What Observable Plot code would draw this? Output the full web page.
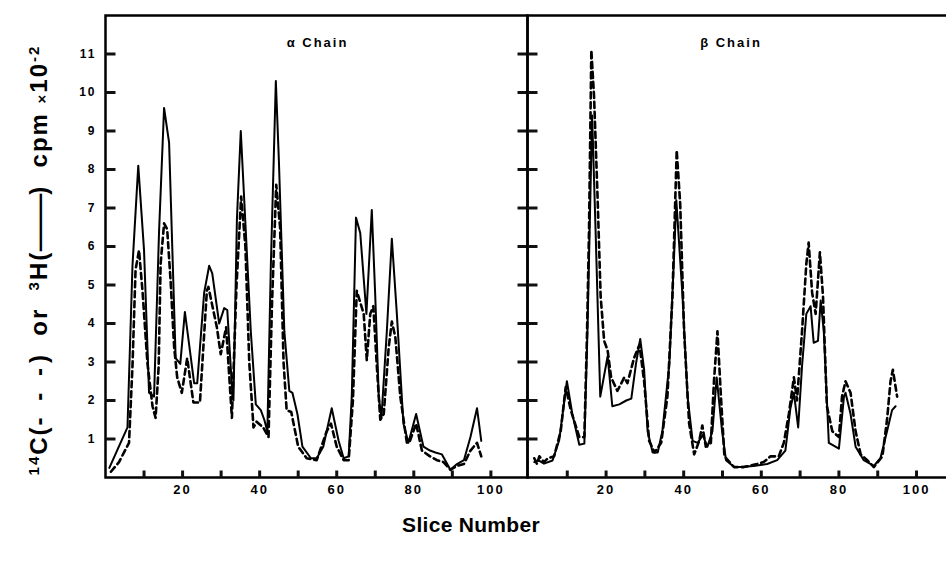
<!DOCTYPE html>
<html>
<head>
<meta charset="utf-8">
<script src="https://cdn.jsdelivr.net/npm/d3@7"></script>
<script src="https://cdn.jsdelivr.net/npm/@observablehq/plot@0.6"></script>
<style>
html, body { margin: 0; padding: 0; background: #fff; overflow: hidden; }
#wrap { position: relative; width: 946px; height: 561px; overflow: hidden; background: #fff;
        font-family: 'Liberation Sans', Arial, sans-serif; color: #000; }
#left, #right { position: absolute; top: 0; }
#left { left: 0; width: 530px; }
#right { left: 524px; width: 432px; }
#wrap svg { max-width: none !important; }
#wrap svg text { font-weight: bold; }
#ylab { position: absolute; left: 39px; top: 260px; transform: translate(-50%, -50%) rotate(-90deg);
        white-space: nowrap; font-weight: bold; font-size: 24px; letter-spacing: 2px; }
#ylab sup { font-size: 15px; vertical-align: 0.55em; line-height: 0; }
#ylab .em { display: inline-block; transform: scaleX(2.4); margin: 0 16px; letter-spacing: 0; }
#ylab .dash { letter-spacing: 5px; }
#ylab .x { font-size: 15px; }
#xlab { position: absolute; left: 471px; top: 525px; transform: translate(-50%, -50%);
        font-weight: bold; font-size: 21px; white-space: nowrap; letter-spacing: 0.3px; }
</style>
</head>
<body>
<div id="wrap">
  <div id="left"></div>
  <div id="right"></div>
  <div id="ylab"><sup>14</sup>C(<span class="dash">- - -</span>)&nbsp; or&nbsp; <sup>3</sup>H(<span class="em">—</span>)&nbsp; cpm <span class="x">×</span>10<sup>-2</sup></div>
  <div id="xlab">Slice Number</div>
</div>
<script>
// ---- tick values / labels ----
const sliceTicks = [10, 20, 30, 40, 50, 60, 70, 80, 90, 100];
const sliceLabels = [20, 40, 60, 80, 100];
const cpmTicks = [1, 2, 3, 4, 5, 6, 7, 8, 9, 10, 11];
const panelTitles = ["α Chain", "β Chain"];

// ---- α chain, 3H (solid) ----
const alphaH_slice = [1, 3, 5.7, 7, 8.5, 10, 11.3, 12.6, 13.9, 15.2, 16.5, 18.2, 19.4, 20.6, 23, 23.8, 25.6, 26.9, 27.7, 29.5, 30.8, 31.6, 32.9, 33.2, 34.1, 35.1, 36, 37.7, 39, 40.3, 41.2, 42, 42.9, 44.2, 45, 46.4, 47.7, 48.5, 49.8, 51.1, 53.3, 54.8, 56.5, 58.7, 60.5, 61.8, 63.1, 63.9, 65, 66.1, 67.7, 69.1, 70, 70.9, 71.6, 73, 74.3, 75.6, 77.3, 78.6, 80.6, 82.5, 84.2, 85.6, 87.3, 89.5, 91.2, 93, 94.7, 96.4, 97.5];
const alphaH_cpm = [0.25, 0.7, 1.3, 5.5, 8.1, 5.9, 2.2, 2.1, 6.4, 9.6, 8.7, 3.1, 2.95, 4.3, 2.45, 2.45, 4.8, 5.5, 5.3, 4.0, 4.4, 4.35, 2.2, 2.0, 6.7, 9.0, 7.2, 3.8, 1.9, 1.75, 1.5, 1.2, 5.5, 10.3, 8.2, 3.8, 2.25, 2.2, 1.65, 0.8, 0.5, 0.5, 0.8, 1.8, 0.95, 0.5, 0.55, 2.1, 6.75, 6.35, 4.25, 6.95, 4.7, 2.1, 1.55, 3.8, 6.2, 4.25, 1.4, 0.9, 1.65, 0.8, 0.7, 0.65, 0.6, 0.2, 0.35, 0.45, 1.05, 1.8, 0.95];

// ---- α chain, 14C (dashed) ----
const alphaC_slice = [1.4, 3.5, 6.1, 7, 7.8, 8.7, 9.6, 10.9, 12.2, 13, 13.8, 14.3, 15.2, 16, 16.9, 17.8, 18.6, 19.8, 21.2, 22.8, 24.5, 26.3, 26.7, 28.9, 29.9, 31.3, 32.8, 34, 35.2, 36.3, 37.3, 38.4, 39.2, 40.9, 42.3, 43.2, 44.3, 45.3, 46.2, 47, 48.2, 50, 52.2, 54.8, 57.4, 58.5, 60, 61.8, 63.1, 64.2, 65.2, 67, 67.8, 68.7, 69.5, 70.4, 71.3, 72.2, 73.5, 74.3, 75.2, 76.5, 78.2, 79, 80.6, 82.1, 84.2, 86, 87.7, 89.5, 91.2, 93, 94.7, 96.4, 97.5];
const alphaC_cpm = [0.15, 0.4, 0.9, 2.9, 5.4, 5.9, 4.85, 2.95, 1.85, 1.55, 2.9, 5.55, 6.6, 6.45, 5.1, 3.4, 2.6, 2.2, 3.1, 1.95, 1.95, 4.85, 4.95, 3.9, 3.2, 3.9, 1.55, 5.0, 7.3, 6.0, 3.0, 1.3, 1.45, 1.3, 1.05, 4.5, 7.6, 6.5, 3.0, 1.75, 1.7, 0.8, 0.5, 0.45, 1.2, 1.4, 0.8, 0.45, 0.45, 2.0, 4.85, 4.25, 3.05, 4.25, 4.45, 2.9, 1.5, 1.65, 3.4, 4.05, 3.65, 2.1, 0.9, 0.95, 1.4, 0.7, 0.55, 0.45, 0.4, 0.2, 0.3, 0.35, 0.7, 0.9, 0.55];

// ---- β chain, 3H (solid) ----
const betaH_slice = [1.5, 2.5, 4, 6.2, 7.9, 9.9, 11.3, 13.1, 14.4, 15.2, 16.4, 17.3, 18.5, 20.4, 21.6, 23.4, 25.2, 26.5, 27.7, 28.8, 29.8, 30.7, 32, 33.3, 34.5, 36.3, 37.5, 38.1, 39.7, 41, 42.3, 43.6, 44.9, 46.1, 47.4, 48.5, 49.9, 50.9, 53, 54.6, 58, 61.5, 64.1, 66.2, 67.5, 68.4, 69.5, 70.5, 71.6, 72.7, 73.5, 74.6, 75.3, 76.1, 77.4, 80, 81.3, 81.7, 83, 84.3, 86.4, 89, 90.7, 92.4, 93.7, 94.6];
const betaH_cpm = [0.4, 0.45, 0.36, 0.44, 0.96, 2.5, 1.65, 0.85, 0.88, 3.8, 9.4, 6.4, 2.1, 3.15, 1.85, 1.9, 2.0, 2.05, 2.95, 3.6, 2.8, 1.2, 0.65, 0.65, 1.2, 2.95, 5.7, 7.2, 4.7, 2.1, 0.95, 0.9, 1.1, 0.8, 1.2, 2.6, 1.2, 0.45, 0.27, 0.27, 0.3, 0.35, 0.45, 0.7, 1.8, 2.2, 1.3, 2.9, 4.25, 4.45, 3.5, 3.55, 4.6, 3.8, 0.9, 0.75, 2.1, 2.2, 1.65, 0.8, 0.45, 0.3, 0.5, 1.2, 1.75, 1.85];

// ---- β chain, 14C (dashed) ----
const betaC_slice = [1.5, 2.2, 2.8, 4, 5, 6.6, 8.3, 9.6, 10.9, 13.1, 14.4, 15.1, 15.6, 16.2, 16.9, 17.8, 18.6, 19.5, 20.4, 21.3, 22.9, 24.7, 25.5, 27.2, 28.6, 29.8, 31.1, 32.5, 34.2, 35.8, 37.1, 38.2, 39.1, 40.1, 41.4, 42.7, 44, 44.8, 45.7, 47, 47.8, 48.7, 49.6, 50.5, 53, 55.5, 58.9, 60.6, 62.4, 64.5, 65.8, 67.1, 68.4, 69.2, 70.5, 71.6, 72.2, 73.1, 74, 75.1, 75.9, 76.9, 78.3, 80, 80.8, 81.7, 83, 84.3, 85.6, 87.3, 89, 91.2, 92.4, 93.3, 93.9, 95];
const betaC_cpm = [0.5, 0.35, 0.55, 0.4, 0.5, 0.55, 1.2, 2.35, 1.75, 1.05, 1.05, 3.8, 6.4, 11.1, 9.9, 7.3, 4.7, 3.55, 3.3, 2.6, 2.25, 2.6, 2.45, 3.1, 3.45, 2.5, 0.95, 0.65, 0.9, 2.1, 4.7, 8.5, 7.1, 3.8, 1.4, 0.6, 0.95, 1.35, 0.8, 0.9, 2.5, 3.8, 2.1, 0.55, 0.27, 0.27, 0.35, 0.4, 0.55, 0.55, 0.9, 1.65, 2.6, 2.0, 3.8, 5.55, 6.1, 4.8, 4.25, 5.85, 4.7, 1.85, 1.2, 1.05, 2.1, 2.5, 2.2, 1.2, 0.6, 0.45, 0.27, 0.55, 1.5, 2.5, 2.8, 2.1];

const toRows = (xs, ys) => xs.map((x, i) => ({slice: x, cpm: ys[i]}));

const H = 520, MT = 15, MB = 43;
const yDomain = [0, 12];
const YTICK_PX = 10, XTICK_PX = 7;

function panel({hx, hy, cx, cy, title, width, marginLeft, marginRight, xDomain, showYLabels, rightTicks, titleDx}) {
  const plotW = width - marginLeft - marginRight;
  const plotH = H - MT - MB;
  // tick lengths converted from pixels into data units of each scale
  const dxTick = YTICK_PX * (xDomain[1] - xDomain[0]) / plotW;
  const dyTick = XTICK_PX * (yDomain[1] - yDomain[0]) / plotH;
  const leftTickRows = cpmTicks.map(v => ({cpm: v, a: xDomain[0], b: xDomain[0] + dxTick}));
  const rightTickRows = cpmTicks.map(v => ({cpm: v, a: xDomain[1] - dxTick, b: xDomain[1]}));
  const bottomTickRows = sliceTicks.map(v => ({slice: v, a: yDomain[0], b: yDomain[0] + dyTick}));
  const marks = [
    Plot.axisX(sliceLabels, {anchor: "bottom", tickSize: 0, tickPadding: 7, label: null, fontSize: 13}),
    Plot.line(toRows(hx, hy), {x: "slice", y: "cpm", stroke: "black", strokeWidth: 2, strokeLinejoin: "round"}),
    Plot.line(toRows(cx, cy), {x: "slice", y: "cpm", stroke: "black", strokeWidth: 2.6, strokeDasharray: "6,4"}),
    Plot.text([title], {frameAnchor: "top", dy: 22, dx: titleDx, fontSize: 13}),
    Plot.frame({stroke: "black", strokeWidth: 2.5}),
    // inward ticks on the left edge
    Plot.link(leftTickRows, {x1: "a", x2: "b", y1: "cpm", y2: "cpm", stroke: "#111", strokeWidth: 3, strokeLinecap: "butt"}),
    // inward ticks on the bottom edge
    Plot.link(bottomTickRows, {x1: "slice", x2: "slice", y1: "a", y2: "b", stroke: "#111", strokeWidth: 3, strokeLinecap: "butt"})
  ];
  if (showYLabels) marks.push(Plot.axisY(cpmTicks, {anchor: "left", tickSize: 0, tickPadding: 9, label: null, fontSize: 12}));
  if (rightTicks) marks.push(Plot.link(rightTickRows, {x1: "a", x2: "b", y1: "cpm", y2: "cpm", stroke: "#111", strokeWidth: 3, strokeLinecap: "butt"}));
  return Plot.plot({
    width, height: H,
    marginLeft, marginRight, marginTop: MT, marginBottom: MB,
    x: {domain: xDomain},
    y: {domain: yDomain, axis: showYLabels ? undefined : null},
    style: {fontFamily: "'Liberation Sans', Arial, sans-serif", fontSize: "13px", fontWeight: "bold",
            letterSpacing: "2px", color: "black", background: "transparent", overflow: "visible"},
    marks
  });
}

document.getElementById("left").appendChild(panel({
  hx: alphaH_slice, hy: alphaH_cpm, cx: alphaC_slice, cy: alphaC_cpm, title: panelTitles[0],
  width: 530, marginLeft: 105, marginRight: 3, xDomain: [0, 109.5], showYLabels: true, rightTicks: true, titleDx: 1
}));
document.getElementById("right").appendChild(panel({
  hx: betaH_slice, hy: betaH_cpm, cx: betaC_slice, cy: betaC_cpm, title: panelTitles[1],
  width: 432, marginLeft: 3, marginRight: 0, xDomain: [-0.25, 110.3], showYLabels: false, rightTicks: false, titleDx: -11
}));
</script>
</body>
</html>
